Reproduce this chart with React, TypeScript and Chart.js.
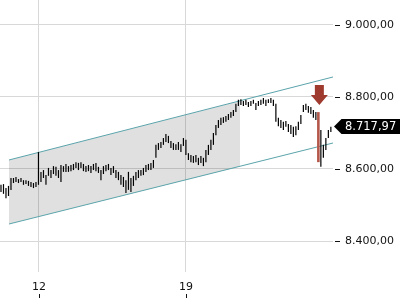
import React, { useEffect, useRef } from "react";
import { Chart, registerables } from "chart.js";

Chart.register(...registerables);

// ---- data ----
const DAY_TICKS = [12, 19];
const PRICE_TICKS = [8400, 8600, 8800, 9000];
const X_MIN = 10.143;
const X_MAX = 26;
const Y_MIN = 8313.9;
const Y_MAX = 9069.4;
const FIRST_BAR_DAY = 10.19;
const BAR_STEP_DAYS = 0.119;

const HIGHS = [
  8556, 8558, 8547, 8553, 8575, 8575, 8578, 8572, 8575, 8569,
  8569, 8567, 8564, 8561, 8564, 8647, 8592, 8597, 8583, 8603,
  8597, 8608, 8606, 8597, 8611, 8608, 8614, 8608, 8611, 8614,
  8619, 8617, 8619, 8614, 8608, 8611, 8608, 8614, 8617, 8606,
  8597, 8608, 8611, 8614, 8603, 8608, 8597, 8592, 8583, 8578,
  8569, 8592, 8575, 8581, 8592, 8597, 8597, 8603, 8611, 8614,
  8617, 8625, 8667, 8672, 8675, 8686, 8697, 8692, 8678, 8672,
  8669, 8675, 8669, 8686, 8681, 8644, 8639, 8636, 8639, 8631,
  8636, 8631, 8653, 8667, 8681, 8700, 8722, 8736, 8742, 8744,
  8747, 8753, 8758, 8764, 8781, 8792, 8794, 8789, 8792, 8786,
  8789, 8792, 8783, 8789, 8792, 8797, 8792, 8794, 8797, 8792,
  8781, 8742, 8736, 8731, 8733, 8725, 8722, 8717, 8719, 8731,
  8750, 8778, 8781, 8775, 8772, 8764, 8758, 8758, 8708, 8667,
  8686, 8708, 8717,
];
const LOWS = [
  8536, 8531, 8519, 8525, 8542, 8561, 8564, 8561, 8564, 8556,
  8558, 8553, 8550, 8547, 8550, 8556, 8564, 8575, 8556, 8581,
  8575, 8586, 8581, 8575, 8564, 8592, 8592, 8592, 8594, 8597,
  8603, 8597, 8603, 8594, 8592, 8594, 8589, 8597, 8594, 8589,
  8569, 8586, 8594, 8597, 8583, 8589, 8575, 8569, 8556, 8550,
  8533, 8542, 8536, 8553, 8569, 8575, 8581, 8583, 8592, 8597,
  8597, 8603, 8631, 8653, 8658, 8667, 8675, 8672, 8658, 8653,
  8653, 8653, 8647, 8664, 8639, 8625, 8619, 8617, 8619, 8611,
  8617, 8608, 8619, 8639, 8653, 8667, 8694, 8714, 8722, 8728,
  8731, 8736, 8742, 8747, 8758, 8775, 8778, 8775, 8778, 8772,
  8775, 8781, 8764, 8775, 8778, 8781, 8775, 8783, 8783, 8775,
  8731, 8719, 8714, 8708, 8717, 8703, 8697, 8689, 8694, 8708,
  8725, 8758, 8764, 8756, 8753, 8742, 8736, 8619, 8606, 8631,
  8653, 8686, 8703,
];
const SIGNAL_BAR = 127;
const LAST_PRICE = 8717.97;

const CHANNEL_DAYS = [10.571, 26];
const CHANNEL_UPPER = [8625, 8855.6];
const CHANNEL_LOWER = [8447.2, 8672.2];
const SHADE_DAYS = [10.571, 21.571];
const SHADE_UPPER = [8625, 8789];
const SHADE_LOWER = [8447.2, 8607];
const ARROW_TIP = 8778;
const ARROW_TOP = 8833;

// ---- helpers ----
const fmtDE = (v: number) => {
  const [i, d] = v.toFixed(2).split(".");
  return i.replace(/\B(?=(\d{3})+(?!\d))/g, ".") + "," + d;
};
const barDay = (i: number) => FIRST_BAR_DAY + i * BAR_STEP_DAYS;
const FONT = "'DejaVu Sans', sans-serif";

const overlayPlugin = {
  id: "overlay",
  afterDraw(chart: any) {
    const { ctx, scales, chartArea } = chart;
    const xs = scales.x;
    const ys = scales.y;
    ctx.save();
    ctx.strokeStyle = "#111";
    ctx.lineWidth = 1;
    PRICE_TICKS.forEach((v) => {
      const y = Math.round(ys.getPixelForValue(v)) + 0.5;
      ctx.beginPath();
      ctx.moveTo(chartArea.right + 2, y);
      ctx.lineTo(chartArea.right + 7, y);
      ctx.stroke();
    });
    DAY_TICKS.forEach((d) => {
      const x = Math.round(xs.getPixelForValue(d)) + 0.5;
      ctx.beginPath();
      ctx.moveTo(x, chartArea.bottom + 22);
      ctx.lineTo(x, chartArea.bottom + 26);
      ctx.stroke();
    });
    // arrow
    const ax = xs.getPixelForValue(barDay(SIGNAL_BAR)) + 1;
    const tip = ys.getPixelForValue(ARROW_TIP);
    const top = ys.getPixelForValue(ARROW_TOP);
    const headH = 10;
    ctx.fillStyle = "#9e3a2e";
    ctx.beginPath();
    ctx.moveTo(ax - 4.5, top);
    ctx.lineTo(ax + 4.5, top);
    ctx.lineTo(ax + 4.5, tip - headH);
    ctx.lineTo(ax + 8.5, tip - headH);
    ctx.lineTo(ax, tip);
    ctx.lineTo(ax - 8.5, tip - headH);
    ctx.lineTo(ax - 4.5, tip - headH);
    ctx.closePath();
    ctx.fill();
    // last price tag
    const py = ys.getPixelForValue(LAST_PRICE);
    const left = chartArea.right + 1;
    ctx.fillStyle = "#000";
    ctx.beginPath();
    ctx.moveTo(left, py);
    ctx.lineTo(left + 7.5, py - 7.5);
    ctx.lineTo(chart.width, py - 7.5);
    ctx.lineTo(chart.width, py + 7.5);
    ctx.lineTo(left + 7.5, py + 7.5);
    ctx.closePath();
    ctx.fill();
    ctx.fillStyle = "#fff";
    ctx.font = `11.5px ${FONT}`;
    ctx.textBaseline = "middle";
    ctx.textAlign = "left";
    ctx.fillText(fmtDE(LAST_PRICE), left + 11, py + 0.5);
    ctx.restore();
  },
};

export default function App() {
  const ref = useRef<HTMLCanvasElement>(null);
  useEffect(() => {
    if (!ref.current) return;
    const blackBars = HIGHS.map((h, i) => ({ x: barDay(i), y: [LOWS[i], h] })).filter(
      (_, i) => i !== SIGNAL_BAR
    );
    const redBar = [{ x: barDay(SIGNAL_BAR), y: [LOWS[SIGNAL_BAR], HIGHS[SIGNAL_BAR]] }];
    const chart = new Chart(ref.current, {
      type: "bar",
      data: {
        datasets: [
          {
            type: "line",
            data: SHADE_DAYS.map((d, i) => ({ x: d, y: SHADE_UPPER[i] })),
            borderWidth: 0,
            pointRadius: 0,
            backgroundColor: "rgba(0,0,0,0.12)",
            fill: "+1",
            order: 10,
          } as any,
          {
            type: "line",
            data: SHADE_DAYS.map((d, i) => ({ x: d, y: SHADE_LOWER[i] })),
            borderWidth: 0,
            pointRadius: 0,
            fill: false,
            order: 9,
          } as any,
          {
            type: "line",
            data: CHANNEL_DAYS.map((d, i) => ({ x: d, y: CHANNEL_UPPER[i] })),
            borderColor: "#5aa3ab",
            borderWidth: 1,
            pointRadius: 0,
            fill: false,
            order: 5,
          } as any,
          {
            type: "line",
            data: CHANNEL_DAYS.map((d, i) => ({ x: d, y: CHANNEL_LOWER[i] })),
            borderColor: "#5aa3ab",
            borderWidth: 1,
            pointRadius: 0,
            fill: false,
            order: 5,
          } as any,
          {
            type: "bar",
            data: blackBars as any,
            backgroundColor: "#000",
            barThickness: 1.2,
            inflateAmount: 0,
            grouped: false,
            order: 2,
          } as any,
          {
            type: "bar",
            data: redBar as any,
            backgroundColor: "#b4584c",
            barThickness: 2.6,
            inflateAmount: 0,
            grouped: false,
            order: 1,
          } as any,
        ],
      },
      options: {
        responsive: false,
        animation: false,
        layout: { padding: 0 },
        plugins: { legend: { display: false }, tooltip: { enabled: false } },
        scales: {
          x: {
            type: "linear",
            min: X_MIN,
            max: X_MAX,
            offset: false,
            afterBuildTicks: (s: any) => {
              s.ticks = DAY_TICKS.map((v) => ({ value: v }));
            },
            afterFit: (s: any) => {
              s.height = 28;
              s.paddingLeft = 0;
              s.paddingRight = 0;
            },
            grid: { color: "#d8d8d8", drawTicks: false, offset: false },
            border: { display: false },
            ticks: {
              padding: 9,
              color: "#111",
              font: { family: FONT, size: 11 },
              callback: (v: any) => String(v),
              maxRotation: 0,
            },
          },
          y: {
            type: "linear",
            position: "right",
            min: Y_MIN,
            max: Y_MAX,
            afterBuildTicks: (s: any) => {
              s.ticks = PRICE_TICKS.map((v) => ({ value: v }));
            },
            afterFit: (s: any) => {
              s.width = 67;
              s.paddingTop = 0;
              s.paddingBottom = 0;
            },
            grid: { color: "#d8d8d8", drawTicks: false },
            border: { display: false },
            ticks: {
              padding: 12,
              color: "#111",
              font: { family: FONT, size: 11 },
              callback: (v: any) => fmtDE(Number(v)),
            },
          },
        },
      } as any,
      plugins: [overlayPlugin],
    });
    return () => chart.destroy();
  }, []);
  return (
    <div style={{ position: "fixed", left: 0, top: 0, width: 400, height: 300, background: "#fff" }}>
      <canvas ref={ref} width={400} height={300} style={{ display: "block" }} />
    </div>
  );
}
